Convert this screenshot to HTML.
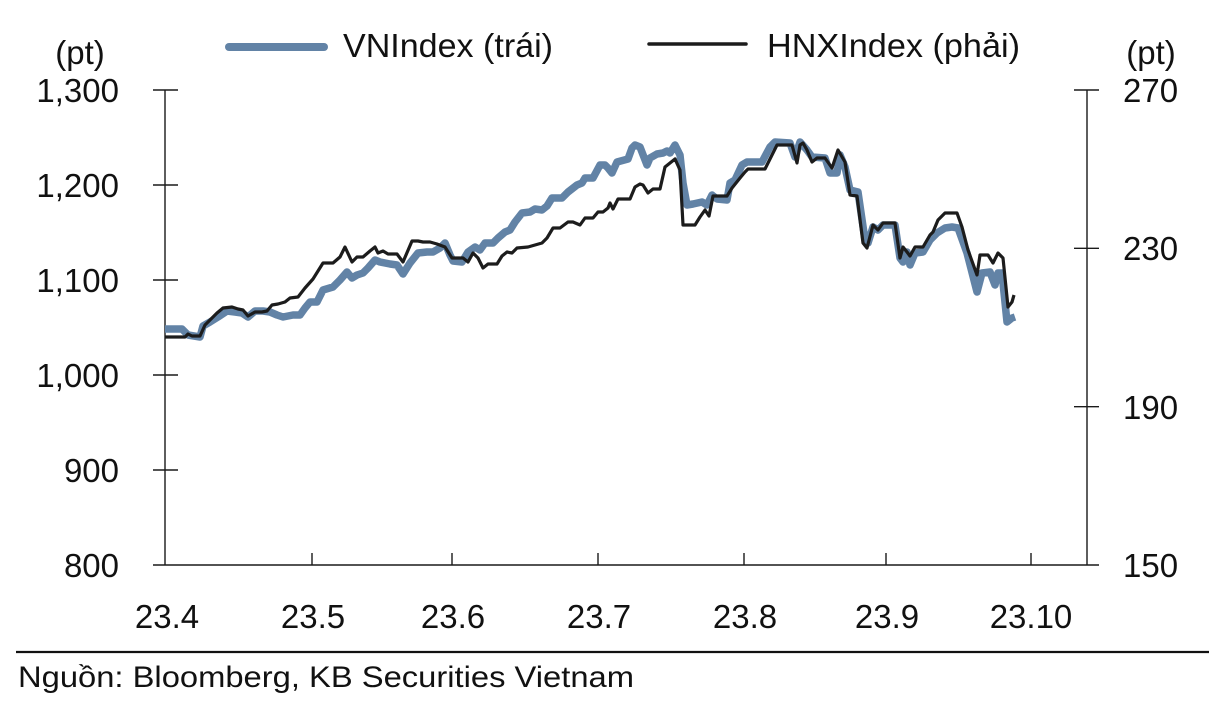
<!DOCTYPE html>
<html>
<head>
<meta charset="utf-8">
<style>
  html, body { margin: 0; padding: 0; background: #ffffff; }
  body { width: 1209px; height: 709px; overflow: hidden; }
  svg { display: block; }
  text { font-family: "Liberation Sans", "DejaVu Sans", sans-serif; fill: #111; }
</style>
</head>
<body>
<svg width="1209" height="709" viewBox="0 0 1209 709" xmlns="http://www.w3.org/2000/svg">
  <rect x="0" y="0" width="1209" height="709" fill="#ffffff"/>

  <!-- Legend -->
  <line x1="229" y1="47" x2="324" y2="47" stroke="#6283a6" stroke-width="8" stroke-linecap="round"/>
  <text x="343" y="57" font-size="33" textLength="210" lengthAdjust="spacingAndGlyphs">VNIndex (trái)</text>
  <line x1="649" y1="44" x2="746" y2="44" stroke="#1c1c1c" stroke-width="3.5" stroke-linecap="round"/>
  <text x="767" y="57" font-size="33" textLength="253" lengthAdjust="spacingAndGlyphs">HNXIndex (phải)</text>

  <!-- Unit labels -->
  <text x="80" y="64" font-size="33" text-anchor="middle">(pt)</text>
  <text x="1151" y="64" font-size="33" text-anchor="middle">(pt)</text>

  <!-- Axes -->
  <g stroke="#1a1a1a" stroke-width="1.4" fill="none">
    <line x1="165" y1="90" x2="165" y2="565"/>
    <line x1="1087" y1="90" x2="1087" y2="565"/>
    <line x1="153" y1="565" x2="1099" y2="565"/>
    <!-- left ticks -->
    <line x1="153" y1="90" x2="178" y2="90"/>
    <line x1="153" y1="185" x2="178" y2="185"/>
    <line x1="153" y1="280" x2="178" y2="280"/>
    <line x1="153" y1="375" x2="178" y2="375"/>
    <line x1="153" y1="470" x2="178" y2="470"/>
    <!-- right ticks -->
    <line x1="1074" y1="90" x2="1099" y2="90"/>
    <line x1="1074" y1="248.3" x2="1099" y2="248.3"/>
    <line x1="1074" y1="406.7" x2="1099" y2="406.7"/>
    <!-- x ticks -->
    <line x1="312" y1="553" x2="312" y2="565"/>
    <line x1="452" y1="553" x2="452" y2="565"/>
    <line x1="598" y1="553" x2="598" y2="565"/>
    <line x1="744" y1="553" x2="744" y2="565"/>
    <line x1="886" y1="553" x2="886" y2="565"/>
    <line x1="1031" y1="553" x2="1031" y2="565"/>
  </g>

  <!-- Left axis labels -->
  <g font-size="33" text-anchor="end">
    <text x="119" y="102">1,300</text>
    <text x="119" y="197">1,200</text>
    <text x="119" y="292">1,100</text>
    <text x="119" y="387">1,000</text>
    <text x="119" y="482">900</text>
    <text x="119" y="577">800</text>
  </g>

  <!-- Right axis labels -->
  <g font-size="33" text-anchor="start">
    <text x="1123" y="102">270</text>
    <text x="1123" y="260">230</text>
    <text x="1123" y="419">190</text>
    <text x="1123" y="577">150</text>
  </g>

  <!-- X axis labels -->
  <g font-size="33" text-anchor="middle">
    <text x="167" y="628">23.4</text>
    <text x="313" y="628">23.5</text>
    <text x="453" y="628">23.6</text>
    <text x="599" y="628">23.7</text>
    <text x="745" y="628">23.8</text>
    <text x="887" y="628">23.9</text>
    <text x="1031" y="628">23.10</text>
  </g>

  <!-- VNIndex series -->
  <polyline fill="none" stroke="#6283a6" stroke-width="7.5" stroke-linejoin="round" stroke-linecap="butt"
    points="165,329 182,329 188,335 200,337 203,326 210,322 218,317 227,311 235,312 242,313 248,317 255,311 263,311 270,312 277,315 283,317 293,315 300,315 305,308 310,302 317,302 323,290 333,287 340,280 347,272 352,278 357,275 363,273 368,268 375,260 380,262 390,264 397,265 403,274 410,263 418,253 427,252 433,252 440,248 445,243 450,255 453,261 462,262 468,252 475,247 480,250 485,243 493,243 498,238 505,232 510,230 515,222 522,213 530,212 535,209 542,210 547,206 552,198 562,198 568,192 577,185 582,183 585,178 593,178 600,165 605,165 608,168 612,173 617,162 628,159 632,148 635,145 640,147 647,165 650,158 657,154 663,153 667,151 670,153 675,145 680,155 683,183 687,205 693,204 702,202 707,205 712,195 717,199 727,200 730,183 735,180 742,165 747,162 762,162 770,147 775,142 790,143 795,157 800,142 807,150 812,157 825,158 830,173 837,173 840,155 845,167 850,190 858,192 865,240 868,243 873,227 878,230 883,225 895,225 900,258 903,262 907,252 910,265 915,253 923,252 930,240 937,233 945,228 952,227 958,228 967,253 977,292 982,273 990,272 995,285 998,273 1002,273 1007,322 1012,318 1015,317"/>

  <!-- HNXIndex series -->
  <polyline fill="none" stroke="#1c1c1c" stroke-width="3.2" stroke-linejoin="round" stroke-linecap="butt"
    points="165,337 185,337 188,334 192,336 200,336 205,325 210,320 217,313 223,308 232,307 238,309 243,310 248,316 255,312 262,312 267,311 272,305 278,304 285,302 290,298 298,297 305,288 313,279 323,263 333,263 340,257 345,247 352,262 357,257 363,257 370,251 375,247 378,253 383,251 388,254 397,254 403,262 412,241 418,241 423,242 430,242 437,244 445,247 452,258 463,258 468,262 473,253 478,258 483,268 488,264 497,264 502,256 507,252 512,253 517,248 528,247 535,245 542,243 547,238 553,228 560,228 568,222 573,222 580,225 585,218 593,218 598,212 603,212 608,208 610,203 613,209 618,199 630,199 635,187 640,184 643,185 648,193 653,189 660,189 665,167 675,159 680,170 683,225 685,225 695,225 700,217 705,210 709,216 713,196 727,196 732,188 740,178 745,172 748,169 765,169 772,155 777,145 792,145 797,163 800,145 803,143 807,150 812,162 817,158 825,158 832,168 838,150 845,162 850,195 857,196 863,243 867,248 873,225 878,230 883,223 895,223 900,258 903,247 907,252 910,256 915,247 923,247 930,235 933,232 938,220 945,213 957,213 962,227 968,250 977,275 980,255 988,255 993,263 998,253 1003,258 1008,307 1012,302 1014,295"/>

  <!-- Source separator and note -->
  <line x1="16" y1="652" x2="1209" y2="652" stroke="#111" stroke-width="2.2"/>
  <text x="18" y="687" font-size="30" textLength="616" lengthAdjust="spacingAndGlyphs">Nguồn: Bloomberg, KB Securities Vietnam</text>
</svg>
</body>
</html>
